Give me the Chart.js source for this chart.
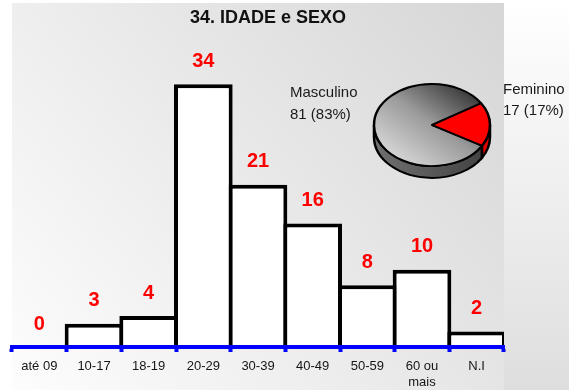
<!DOCTYPE html>
<html>
<head>
<meta charset="utf-8">
<script src="https://cdn.jsdelivr.net/npm/chart.js@4/dist/chart.umd.min.js"></script>
<style>
  html, body { margin: 0; padding: 0; background: #fff; }
  #wrap { position: relative; width: 569px; height: 390px; }
  #wrap canvas { position: absolute; left: 0; top: 0; }
  #pieChart { pointer-events: none; }
</style>
</head>
<body>
<div id="wrap">
  <canvas id="barChart" width="569" height="390"></canvas>
  <canvas id="pieChart" width="569" height="390"></canvas>
</div>
<script>
// Age groups and number of people in each
const ageGroups = ['até 09', '10-17', '18-19', '20-29', '30-39', '40-49', '50-59', ['60 ou', 'mais'], 'N.I'];
const ageCounts = [0, 3, 4, 34, 21, 16, 8, 10, 2];

// Sex breakdown
const sexLabels = ['Masculino', 'Feminino'];
const sexCounts = [81, 17];

const chartTitle = '34. IDADE e SEXO';
const FONT = '"Liberation Sans", Arial, Helvetica, sans-serif';

// Backdrop: white page with a soft grey panel behind the chart
const backdrop = {
  id: 'backdrop',
  beforeDraw(chart) {
    const { ctx, width, height } = chart;
    ctx.save();
    ctx.fillStyle = '#ffffff';
    ctx.fillRect(0, 0, width, height);
    const side = ctx.createLinearGradient(0, 0, 0, height);
    side.addColorStop(0, '#ffffff');
    side.addColorStop(1, '#dedede');
    ctx.fillStyle = side;
    ctx.fillRect(504, 0, width - 504, height);
    const panel = ctx.createLinearGradient(12, height, 504, 3);
    panel.addColorStop(0, '#fdfdfd');
    panel.addColorStop(1, '#d6d6d6');
    ctx.fillStyle = panel;
    ctx.fillRect(12, 3, 492, height - 3);
    ctx.restore();
  }
};

// Title and the red count above each bar
const barText = {
  id: 'barText',
  afterDraw(chart) {
    const { ctx } = chart;
    ctx.save();
    ctx.fillStyle = '#111';
    ctx.font = 'bold 18px ' + FONT;
    ctx.textAlign = 'center';
    ctx.textBaseline = 'middle';
    ctx.fillText(chartTitle, 268, 18);

    const meta = chart.getDatasetMeta(0);
    ctx.fillStyle = '#ff0000';
    ctx.font = 'bold 20px ' + FONT;
    meta.data.forEach((bar, i) => {
      ctx.fillText(String(ageCounts[i]), bar.x, bar.y - 23);
    });
    ctx.restore();
  }
};

new Chart(document.getElementById('barChart'), {
  type: 'bar',
  data: {
    labels: ageGroups,
    datasets: [{
      data: ageCounts,
      backgroundColor: '#ffffff',
      borderColor: '#000000',
      borderWidth: 4,
      borderSkipped: 'bottom',
      inflateAmount: 0,
      // bars overlap by half a border so neighbouring edges share one line
      barPercentage: 1.073,
      categoryPercentage: 1
    }]
  },
  options: {
    responsive: false,
    animation: false,
    events: [],
    layout: { padding: { left: 12, right: 65, top: 38, bottom: 0 } },
    plugins: { legend: { display: false }, tooltip: { enabled: false }, title: { display: false } },
    scales: {
      x: {
        offset: true,
        afterFit(scale) { scale.height = 43; },
        grid: {
          display: true,
          offset: true,
          z: 1,
          color: '#0000ff',
          drawOnChartArea: false,
          drawTicks: true,
          tickLength: 5,
          tickWidth: 4,
          tickColor: '#0000ff'
        },
        border: { display: true, color: '#0000ff', width: 4, z: 2 },
        ticks: {
          autoSkip: false,
          maxRotation: 0,
          padding: 7,
          color: '#151515',
          font: { family: FONT, size: 13 }
        }
      },
      y: { display: false, min: 0, max: 40 }
    }
  },
  plugins: [backdrop, barText]
});

// ---- 3D pie ----
const TILT = 0.707;   // vertical squash of the disc
const DEPTH = 12;     // thickness of the disc in pixels

function frontSpans(s, e) {
  const spans = [];
  for (let k = -2; k <= 2; k++) {
    const lo = Math.max(s, k * 2 * Math.PI);
    const hi = Math.min(e, k * 2 * Math.PI + Math.PI);
    if (hi > lo) spans.push([lo, hi]);
  }
  return spans;
}

const pie3d = {
  id: 'pie3d',
  beforeDatasetsDraw(chart) {
    const { ctx } = chart;
    const arcs = chart.getDatasetMeta(0).data;
    if (!arcs.length) return;
    const { x: cx, y: cy, outerRadius: r } = arcs[0];
    ctx.save();
    ctx.translate(cx, cy);
    ctx.scale(1, TILT);
    ctx.translate(-cx, -cy);
    const d = DEPTH / TILT;
    arcs.forEach((arc, i) => {
      let fill;
      if (i === 0) {
        fill = ctx.createLinearGradient(cx - r, 0, cx + r, 0);
        fill.addColorStop(0, '#707070');
        fill.addColorStop(1, '#404040');
      } else {
        fill = '#e00000';
      }
      frontSpans(arc.startAngle, arc.endAngle).forEach(([a0, a1]) => {
        ctx.beginPath();
        ctx.arc(cx, cy, r, a0, a1);
        ctx.arc(cx, cy + d, r, a1, a0, true);
        ctx.closePath();
        ctx.fillStyle = fill;
        ctx.fill();
        ctx.lineWidth = 2.5;
        ctx.strokeStyle = '#000';
        ctx.stroke();
      });
    });
  },
  afterDatasetsDraw(chart) {
    chart.ctx.restore();
  },
  afterDraw(chart) {
    const { ctx } = chart;
    const arcs = chart.getDatasetMeta(0).data;
    if (!arcs.length) return;
    const { x: cx, y: cy } = arcs[0];
    const total = sexCounts.reduce((a, b) => a + b, 0);
    const line2 = v => `${v} (${Math.round(v / total * 100)}%)`;
    ctx.save();
    ctx.fillStyle = '#1a1a1a';
    ctx.font = '15px ' + FONT;
    ctx.textAlign = 'left';
    ctx.textBaseline = 'middle';
    ctx.fillText(sexLabels[0], cx - 142, cy - 32);
    ctx.fillText(line2(sexCounts[0]), cx - 142, cy - 10);
    ctx.fillText(sexLabels[1], cx + 71, cy - 35);
    ctx.fillText(line2(sexCounts[1]), cx + 71, cy - 14);
    ctx.restore();
  }
};

function topFill(c) {
  if (c.dataIndex === 1) return '#ff0000';
  const chart = c.chart;
  const area = chart.chartArea;
  if (!area) return '#999';
  const cx = (area.left + area.right) / 2;
  const cy = (area.top + area.bottom) / 2;
  const r = 58;
  const g = chart.ctx.createLinearGradient(cx - 0.75 * r, cy + 0.75 * r, cx + 0.8 * r, cy - 0.8 * r);
  g.addColorStop(0, '#d8d8d8');
  g.addColorStop(0.5, '#9a9a9a');
  g.addColorStop(1, '#303030');
  return g;
}

new Chart(document.getElementById('pieChart'), {
  type: 'pie',
  data: {
    labels: sexLabels,
    datasets: [{
      data: sexCounts,
      backgroundColor: topFill,
      borderColor: '#000',
      borderWidth: 2.5,
      clip: false
    }]
  },
  options: {
    responsive: false,
    animation: false,
    events: [],
    radius: 58,
    rotation: 120.4,
    layout: { padding: { left: 295, right: 0, top: 0, bottom: 140 } },
    plugins: { legend: { display: false }, tooltip: { enabled: false } }
  },
  plugins: [pie3d]
});
</script>
</body>
</html>
